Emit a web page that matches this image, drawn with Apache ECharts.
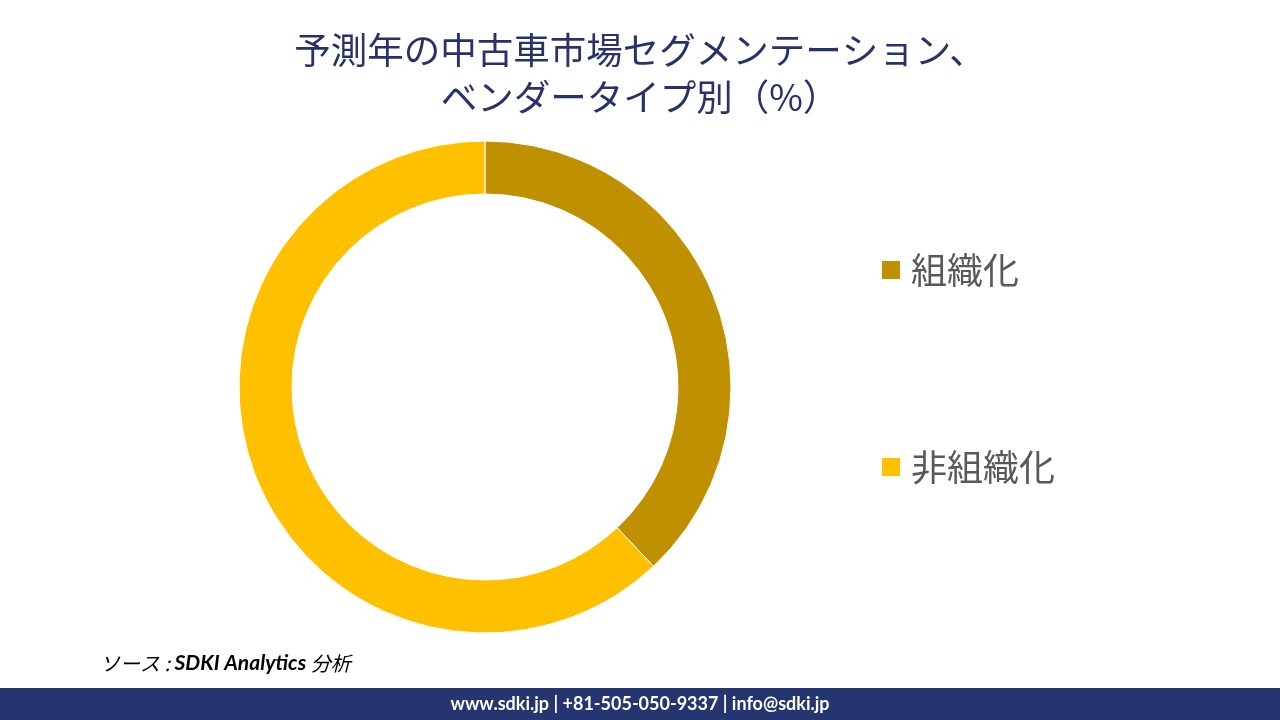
<!DOCTYPE html>
<html><head><meta charset="utf-8">
<script src="https://cdn.jsdelivr.net/npm/echarts@6/dist/echarts.min.js"></script>
<style>html,body{margin:0;padding:0;background:#fff}#c{width:1280px;height:720px}</style>
</head><body><div id="c"></div>
<script>
const categories = ['組織化', '非組織化'];
const shares = [38, 62];
const colors = ['#BF9000', '#FFC000'];
const titleLines = ['予測年の中古車市場セグメンテーション、', 'ベンダータイプ別（%）'];
const footerText = 'www.sdki.jp | +81-505-050-9337 | info@sdki.jp';

const chart = echarts.init(document.getElementById('c'));
chart.setOption({
  backgroundColor: '#fff',
  animation: false,
  title: {
    text: titleLines.join('\n'),
    left: 'center', top: 22,
    textStyle: { fontFamily: 'Noto Sans CJK JP', fontSize: 36.5, fontWeight: 'normal', color: '#25336A', lineHeight: 47 }
  },
  legend: {
    orient: 'vertical', left: 880, top: 249, padding: 0,
    itemWidth: 20, itemHeight: 20, itemGap: 155,
    icon: 'rect',
    textStyle: { fontFamily: 'Noto Sans CJK JP', fontSize: 36, color: '#595959', lineHeight: 42, padding: [0,0,0,5] },
    data: categories
  },
  series: [{
    type: 'pie',
    center: [485, 387],
    radius: [193, 246],
    startAngle: 90,
    clockwise: true,
    label: { show: false },
    labelLine: { show: false },
    itemStyle: { borderColor: '#fff', borderWidth: 1 },
    data: categories.map((n, i) => ({ name: n, value: shares[i], itemStyle: { color: colors[i] } }))
  }],
  graphic: [
    { type: 'rect', shape: { x: 0, y: 688, width: 1280, height: 32 }, style: { fill: '#253570' } },
    { type: 'text', x: 640, y: 704, style: { text: footerText, fill: '#fff', font: 'bold 18px Lato', align: 'center', verticalAlign: 'middle' } },
    { type: 'text', x: 100, y: 663, style: { rich: { a: { font: 'italic 20px "Noto Sans CJK JP"', fill: '#000' }, b: { font: 'italic bold 21px Lato', fill: '#000' } }, text: '{a|ソース : }{b|SDKI Analytics }{a|分析}', verticalAlign: 'middle' } }
  ]
});
</script></body></html>
